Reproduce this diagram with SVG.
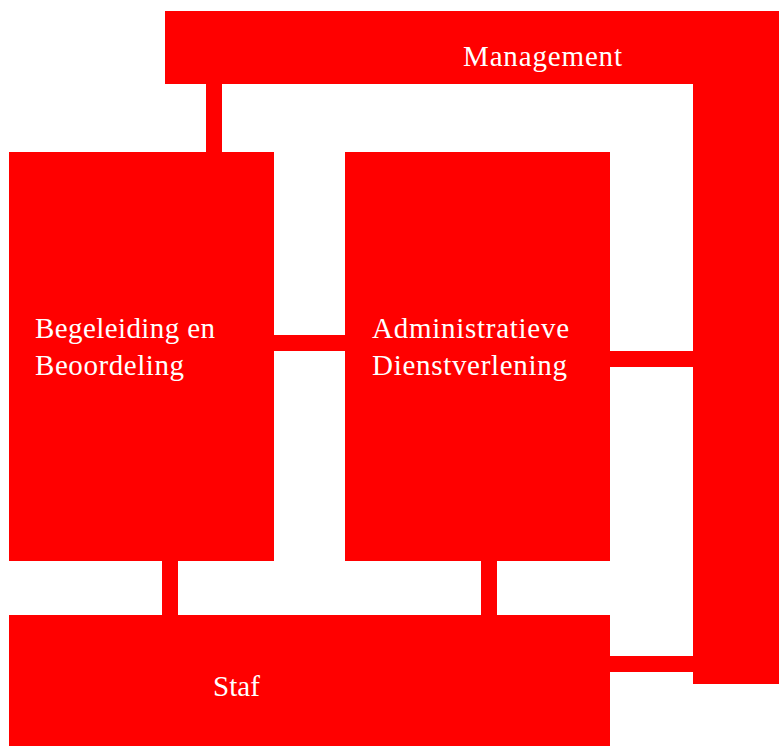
<svg xmlns="http://www.w3.org/2000/svg" width="779" height="747" viewBox="0 0 779 747">
  <style>
    .box { fill: #ff0000; }
    .link { fill: #ff0000; }
    .label { fill: #ffffff; font-family: "Liberation Serif", "DejaVu Serif", serif; font-size: 29px; }
  </style>
  <rect width="779" height="747" fill="#ffffff"/>

  <!-- connectors between the units -->
  <g id="connectors">
    <rect class="link" x="206" y="84" width="16" height="68"/>
    <rect class="link" x="274" y="335" width="71" height="16"/>
    <rect class="link" x="610" y="351" width="83" height="16"/>
    <rect class="link" x="162" y="561" width="16" height="54"/>
    <rect class="link" x="481" y="561" width="16" height="54"/>
    <rect class="link" x="610" y="656" width="83" height="16"/>
  </g>

  <!-- Management: top bar and right column -->
  <g id="management">
    <path class="box" d="M165 11 H779 V684 H693 V84 H165 Z"/>
    <text class="label" x="463" y="66" textLength="159">Management</text>
  </g>

  <g id="begeleiding">
    <rect class="box" x="9" y="152" width="265" height="409"/>
    <text class="label" x="35" y="338" textLength="180">Begeleiding en</text>
    <text class="label" x="35" y="375" textLength="149">Beoordeling</text>
  </g>

  <g id="administratieve">
    <rect class="box" x="345" y="152" width="265" height="409"/>
    <text class="label" x="372" y="338" textLength="197">Administratieve</text>
    <text class="label" x="372" y="375" textLength="195">Dienstverlening</text>
  </g>

  <g id="staf">
    <rect class="box" x="9" y="615" width="601" height="131"/>
    <text class="label" x="213" y="696" textLength="47">Staf</text>
  </g>
</svg>
